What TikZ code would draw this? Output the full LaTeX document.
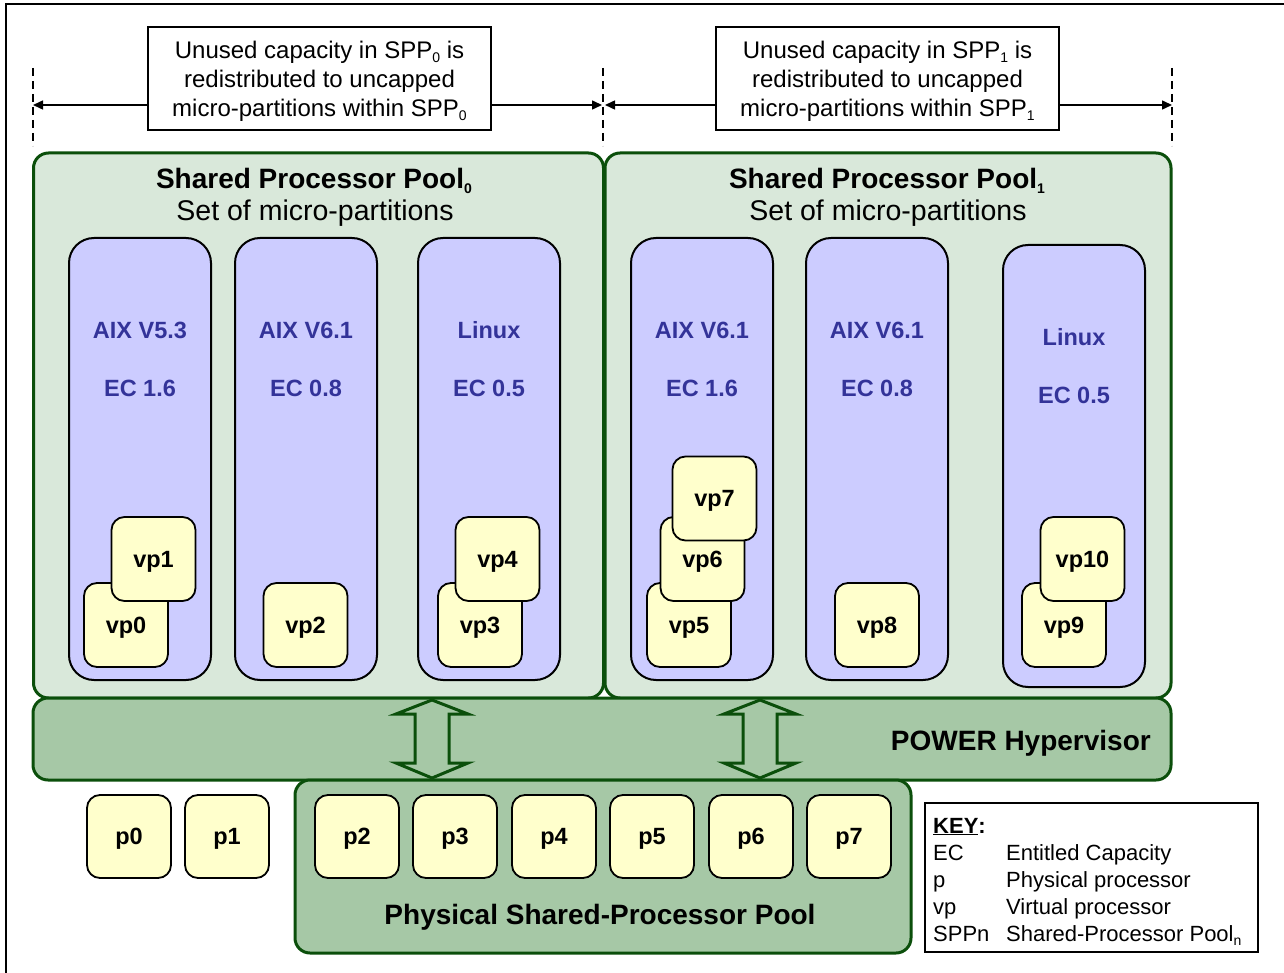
\documentclass[tikz,border=0pt]{standalone}
\usepackage{fontspec}
\setmainfont{Liberation Sans}
\usetikzlibrary{arrows.meta}
\definecolor{poolfill}{HTML}{D9E8DA}
\definecolor{hypfill}{HTML}{A6C8A6}
\definecolor{dkgreen}{HTML}{0B4F0B}
\definecolor{lpfill}{HTML}{CCCCFF}
\definecolor{procfill}{HTML}{FFFFCC}
\definecolor{lpblue}{HTML}{333399}
\newcommand{\lowsub}[1]{\raisebox{-0.35ex}{\fontsize{14}{14}\selectfont #1}}
\begin{document}
\begin{tikzpicture}[x=1pt,y=-1pt,
  pool/.style={draw=dkgreen, line width=3pt, fill=poolfill, rounded corners=15pt, inner sep=0pt},
  hyp/.style={draw=dkgreen, line width=3pt, fill=hypfill, rounded corners=15pt, inner sep=0pt},
  lpar/.style={draw=black, line width=2pt, fill=lpfill, rounded corners=25pt, minimum width=142pt, minimum height=442pt, inner sep=0pt},
  proc/.style={draw=black, line width=1.8pt, fill=procfill, rounded corners=13pt, minimum width=84pt, minimum height=84pt, inner sep=0pt, text depth=0pt, font=\fontsize{23.5}{23.5}\selectfont\bfseries},
  note/.style={draw=black, line width=1.5pt, fill=white, minimum width=343pt, minimum height=103pt, inner sep=0pt},
  notetext/.style={align=center, inner sep=0pt, font=\fontsize{24}{29}\selectfont},
  lplabel/.style={text=lpblue, inner sep=0pt, text depth=0pt, font=\fontsize{23.5}{23.5}\selectfont\bfseries},
  title/.style={inner sep=0pt, text depth=0pt, font=\fontsize{28}{28}\selectfont\bfseries},
  subtitle/.style={inner sep=0pt, text depth=0pt, font=\fontsize{28.5}{28.5}\selectfont},
  guide/.style={dash pattern=on 8pt off 5pt, line width=1.3pt},
  span/.style={line width=1.5pt, -{Triangle[length=10pt,width=9pt]}},
  blockarrow/.style={draw=dkgreen, line width=3pt, fill=hypfill, line join=miter},
  keytext/.style={inner sep=0pt, anchor=base west, font=\fontsize{22}{22}\selectfont}
]
\useasboundingbox (0,0) rectangle (1284,973);
% outer frame
\draw[line width=1.5pt] (6,980) -- (6,4) -- (1290,4);

% guides and notes
\draw[guide] (33,68) -- (33,146);
\draw[guide] (603,68) -- (603,146);
\draw[guide] (1172,68) -- (1172,146);
\node[note] (note0) at (319.5,78.5) {};
\node[note] (note1) at (887.5,78.5) {};
\node[notetext] (nt0) at (319.5,81) {Unused capacity in SPP\lowsub{0} is\\redistributed to uncapped\\micro-partitions within SPP\lowsub{0}};
\node[notetext] (nt1) at (887.5,81) {Unused capacity in SPP\lowsub{1} is\\redistributed to uncapped\\micro-partitions within SPP\lowsub{1}};
\coordinate (g0) at (33,105);
\coordinate (g1a) at (602,105);
\coordinate (g1b) at (605,105);
\coordinate (g2) at (1172,105);
\draw[span] (note0.west |- g0) -- (g0);
\draw[span] (note0.east |- g1a) -- (g1a);
\draw[span] (note1.west |- g1b) -- (g1b);
\draw[span] (note1.east |- g2) -- (g2);

% shared processor pools
\node[pool, minimum width=570pt, minimum height=545pt] (spp0) at (318.5,425.5) {};
\node[pool, minimum width=566pt, minimum height=545pt] (spp1) at (888,425.5) {};
\node[title] (t0) at (314,178) {Shared Processor Pool\lowsub{0}};
\node[subtitle] (s0) at (315,210) {Set of micro-partitions};
\node[title] (t1) at (887,178) {Shared Processor Pool\lowsub{1}};
\node[subtitle] (s1) at (888,210) {Set of micro-partitions};

% partitions
\node[lpar] (lp0) at (140,459) {};
\node[lpar] (lp1) at (306,459) {};
\node[lpar] (lp2) at (489,459) {};
\node[lpar] (lp3) at (702,459) {};
\node[lpar] (lp4) at (877,459) {};
\node[lpar] (lp5) at (1074,466) {};
\node[lplabel] (os0) at (140,330) {AIX V5.3};
\node[lplabel] (ec0) at (140,388) {EC 1.6};
\node[lplabel] (os1) at (306,330) {AIX V6.1};
\node[lplabel] (ec1) at (306,388) {EC 0.8};
\node[lplabel] (os2) at (489,330) {Linux};
\node[lplabel] (ec2) at (489,388) {EC 0.5};
\node[lplabel] (os3) at (702,330) {AIX V6.1};
\node[lplabel] (ec3) at (702,388) {EC 1.6};
\node[lplabel] (os4) at (877,330) {AIX V6.1};
\node[lplabel] (ec4) at (877,388) {EC 0.8};
\node[lplabel] (os5) at (1074,337) {Linux};
\node[lplabel] (ec5) at (1074,395) {EC 0.5};

% virtual processors
\node[proc] (vp0) at (126,625) {vp0};
\node[proc] (vp1) at (153.5,559) {vp1};
\node[proc] (vp2) at (305.5,625) {vp2};
\node[proc] (vp3) at (480,625) {vp3};
\node[proc] (vp4) at (497.5,559) {vp4};
\node[proc] (vp5) at (689,625) {vp5};
\node[proc] (vp6) at (702.5,559) {vp6};
\node[proc] (vp7) at (714.5,498.5) {vp7};
\node[proc] (vp8) at (877,625) {vp8};
\node[proc] (vp9) at (1064,625) {vp9};
\node[proc] (vp10) at (1082.5,559) {vp10};

% hypervisor
\node[hyp, minimum width=1138pt, minimum height=82pt] (hyp) at (602,739) {};
\node[title, anchor=east] (hyptext) at (1151,740) {POWER Hypervisor};

% physical pool
\node[hyp, minimum width=616pt, minimum height=173pt] (phys) at (603,866.5) {};
\node[title] (phystext) at (600,914) {Physical Shared-Processor Pool};

% block arrows
\draw[blockarrow] (432,700) -- (468,714) -- (449,714) -- (449,763) -- (468,763) -- (432,778) -- (396,763) -- (415,763) -- (415,714) -- (396,714) -- cycle;
\draw[blockarrow] (760,700) -- (796,714) -- (777,714) -- (777,763) -- (796,763) -- (760,778) -- (724,763) -- (743,763) -- (743,714) -- (724,714) -- cycle;

% physical processors
\node[proc, minimum height=83pt] (p0) at (129,836.5) {p0};
\node[proc, minimum height=83pt] (p1) at (227,836.5) {p1};
\node[proc, minimum height=83pt] (p2) at (357,836.5) {p2};
\node[proc, minimum height=83pt] (p3) at (455,836.5) {p3};
\node[proc, minimum height=83pt] (p4) at (554,836.5) {p4};
\node[proc, minimum height=83pt] (p5) at (652,836.5) {p5};
\node[proc, minimum height=83pt] (p6) at (751,836.5) {p6};
\node[proc, minimum height=83pt] (p7) at (849,836.5) {p7};

% key
\node[draw=black, line width=1.5pt, fill=white, minimum width=333pt, minimum height=149pt, inner sep=0pt] (key) at (1091.5,877.5) {};
\node[keytext, font=\fontsize{22}{22}\selectfont\bfseries] (khead) at (933,833) {\underline{KEY}:};
\node[keytext] (k1a) at (933,860) {EC};
\node[keytext] (k1b) at (1006,860) {Entitled Capacity};
\node[keytext] (k2a) at (933,887) {p};
\node[keytext] (k2b) at (1006,887) {Physical processor};
\node[keytext] (k3a) at (933,914) {vp};
\node[keytext] (k3b) at (1006,914) {Virtual processor};
\node[keytext] (k4a) at (933,941) {SPPn};
\node[keytext] (k4b) at (1006,941) {Shared-Processor Pool\lowsub{n}};
\end{tikzpicture}
\end{document}
